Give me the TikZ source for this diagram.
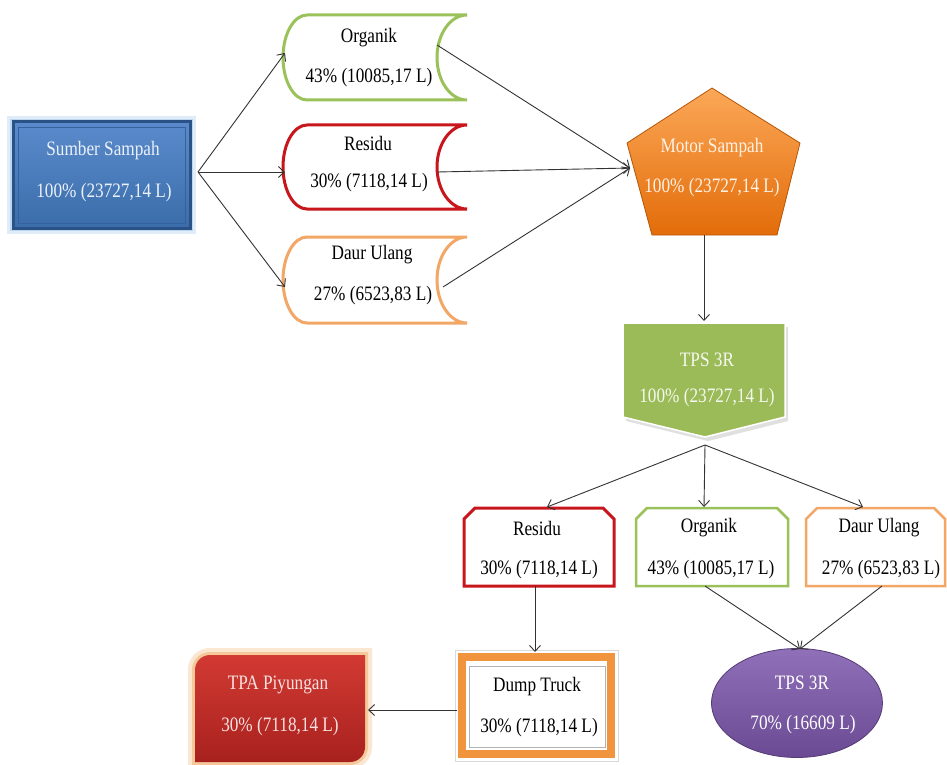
\documentclass[tikz,border=0pt]{standalone}
\usepackage{fontspec}
\newfontfamily\diafont{Liberation Serif}[FakeStretch=0.84]
\usetikzlibrary{arrows.meta,shapes.geometric}
\definecolor{cgreen}{HTML}{9BC25A}
\definecolor{cred}{HTML}{C8161D}
\definecolor{corange}{HTML}{F2A766}
\definecolor{cdump}{HTML}{F0943E}
\definecolor{cblueT}{HTML}{5A8ACB}
\definecolor{cblueB}{HTML}{3B6DAA}
\definecolor{cblueD}{HTML}{2B5287}
\definecolor{cglowB}{HTML}{BCD8F0}
\definecolor{cmotT}{HTML}{FBA858}
\definecolor{cmotB}{HTML}{E36C09}
\definecolor{ctps}{HTML}{9BBB59}
\definecolor{cpurT}{HTML}{9070B8}
\definecolor{cpurB}{HTML}{6A4A93}
\definecolor{ctpaT}{HTML}{D23A33}
\definecolor{ctpaB}{HTML}{A8211E}
\definecolor{cglowO}{HTML}{F5C89A}
\newcommand\stdata[7]{%
 \draw[#1] ({#2+#6},#3) -- (#4,#3)
  .. controls ({#4-0.552*#7},#3) and ({#4-#7},{(#3+#5)/2-0.276*(#5-#3)}) .. ({#4-#7},{(#3+#5)/2})
  .. controls ({#4-#7},{(#3+#5)/2+0.276*(#5-#3)}) and ({#4-0.552*#7},#5) .. (#4,#5)
  -- ({#2+#6},#5)
  .. controls ({#2+0.448*#6},#5) and (#2,{(#3+#5)/2+0.276*(#5-#3)}) .. (#2,{(#3+#5)/2})
  .. controls (#2,{(#3+#5)/2-0.276*(#5-#3)}) and ({#2+0.448*#6},#3) .. cycle;}
\newcommand\snipbox[6]{%
 \draw[#1] (#2,#5) -- (#2,{#3+#6}) -- ({#2+#6},#3) -- ({#4-#6},#3) -- (#4,{#3+#6}) -- (#4,#5) -- cycle;}
\tikzset{
 lbl/.style={inner sep=0pt, font=\diafont\fontsize{20.5}{24}\selectfont, text=black},
 wlbl/.style={lbl, text=white},
 conn/.style={draw=black!80, line width=0.9pt, -{Straight Barb[length=6pt,width=11pt]}},
}
\begin{document}
\begin{tikzpicture}[x=1pt,y=-1pt]
\useasboundingbox (0,0) rectangle (947,765);
\fill[white] (0,0) rectangle (947,765);

% ---- Sumber Sampah
\draw[cglowB, line width=12pt, opacity=0.45] (13,122) rectangle (190,228);
\draw[cglowB, line width=6pt] (13,122) rectangle (190,228);
\shade[top color=cblueT, bottom color=cblueB] (13,122) rectangle (190,228);
\draw[cblueD, line width=3pt] (13,122) rectangle (190,228);
\draw[cblueD!40!cblueB, line width=0.8pt] (18,127) rectangle (185,223);
\node[lbl, text=white!88!cblueT] (srcT) at (103,151) {Sumber Sampah};
\node[lbl, text=white!88!cblueT] (srcV) at (104,193) {100\% (23727,14 L)};

% ---- top stored-data boxes
\stdata{cgreen, line width=3pt, fill=white}{283}{15}{467}{100}{24}{30}
\stdata{cred, line width=3pt, fill=white}{283}{125}{467}{209}{24}{30}
\stdata{corange, line width=3pt, fill=white}{283}{237}{467}{323}{24}{30}
\node[lbl] (orgT) at (369,38) {Organik};
\node[lbl] (orgV) at (369,78) {43\% (10085,17 L)};
\node[lbl] (resT) at (368,143) {Residu};
\node[lbl] (resV) at (369,183) {30\% (7118,14 L)};
\node[lbl] (dauT) at (372,255) {Daur Ulang};
\node[lbl] (dauV) at (373,296) {27\% (6523,83 L)};

% ---- Motor Sampah pentagon
\shade[top color=cmotT, bottom color=cmotB] (712,88) -- (800,143) -- (777,235) -- (652,235) -- (627,143) -- cycle;
\draw[cmotB!80!black, line width=0.8pt] (712,88) -- (800,143) -- (777,235) -- (652,235) -- (627,143) -- cycle;
\node[lbl, text=white!85!cmotT] (motT) at (712,148) {Motor Sampah};
\node[lbl, text=white!85!cmotT] (motV) at (712,188) {100\% (23727,14 L)};

% ---- TPS 3R chevron
\fill[black!12] (626,327) -- (788,327) -- (788,421) -- (708,441) -- (626,421) -- cycle;
\fill[ctps] (623,323) -- (785,323) -- (785,417) -- (705,437) -- (623,417) -- cycle;
\draw[white, line width=1.5pt] (623,323) -- (785,323) -- (785,417) -- (705,437) -- (623,417) -- cycle;
\node[lbl, text=white!90!ctps] (tpsT) at (707,360) {TPS 3R};
\node[lbl, text=white!90!ctps] (tpsV) at (707,398) {100\% (23727,14 L)};

% ---- bottom row boxes
\snipbox{cred, line width=3pt, fill=white}{464}{508}{614}{586}{11}
\snipbox{cgreen, line width=2.5pt, fill=white}{636}{508}{788}{586}{11}
\snipbox{corange, line width=2.5pt, fill=white}{806}{508}{945}{586}{11}
\node[lbl] (res2T) at (537,528) {Residu};
\node[lbl] (res2V) at (539,570) {30\% (7118,14 L)};
\node[lbl] (org2T) at (709,528) {Organik};
\node[lbl] (org2V) at (711,570) {43\% (10085,17 L)};
\node[lbl] (dau2T) at (879,528) {Daur Ulang};
\node[lbl] (dau2V) at (881,570) {27\% (6523,83 L)};

% ---- Dump Truck
\draw[black!15, line width=1pt] (455,650) rectangle (618,761);
\draw[cdump, line width=8pt] (462,657) rectangle (611,754);
\draw[black!30, line width=1pt] (469,666) rectangle (605,747);
\node[lbl] (dumT) at (537,687) {Dump Truck};
\node[lbl] (dumV) at (539,728) {30\% (7118,14 L)};

% ---- TPA Piyungan
\draw[cglowO, line width=14pt, opacity=0.45] (195,762) -- (195,670) .. controls (195,661.7) and (201.7,655) .. (210,655) -- (365,655) -- (365,747) .. controls (365,755.3) and (358.3,762) .. (350,762) -- cycle;
\draw[cglowO, line width=6pt] (195,762) -- (195,670) .. controls (195,661.7) and (201.7,655) .. (210,655) -- (365,655) -- (365,747) .. controls (365,755.3) and (358.3,762) .. (350,762) -- cycle;
\shade[top color=ctpaT, bottom color=ctpaB] (195,762) -- (195,670) .. controls (195,661.7) and (201.7,655) .. (210,655) -- (365,655) -- (365,747) .. controls (365,755.3) and (358.3,762) .. (350,762) -- cycle;
\node[lbl, text=white!85!ctpaT] (tpaT) at (278,685) {TPA Piyungan};
\node[lbl, text=white!85!ctpaT] (tpaV) at (280,727) {30\% (7118,14 L)};

% ---- TPS 3R ellipse
\shade[top color=cpurT, bottom color=cpurB] (797,703) ellipse [x radius=85.5, y radius=54.5];
\draw[cpurB!80!black, line width=0.8pt] (797,703) ellipse [x radius=85.5, y radius=54.5];
\node[wlbl] (ellT) at (802,683) {TPS 3R};
\node[wlbl] (ellV) at (803,725) {70\% (16609 L)};

% ---- connector end points
\coordinate (srcE) at (198,172);
\coordinate (org1W) at (285,53);
\coordinate (res1W) at (285,172);
\coordinate (dau1W) at (285,287);
\coordinate (org1E) at (437,45);
\coordinate (res1E) at (437,172);
\coordinate (dau1E) at (443,287);
\coordinate (motW) at (630,168);
\coordinate (motS) at (704,235);
\coordinate (tpsN) at (704,321);
\coordinate (tpsS) at (705,445);
\coordinate (res2N) at (547,507);
\coordinate (org2N) at (704,507);
\coordinate (dau2N) at (863,507);
\coordinate (res2S) at (535,586);
\coordinate (dumN) at (535,652);
\coordinate (org2S) at (705,586);
\coordinate (dau2S) at (882,586);
\coordinate (ellN) at (800,649);
\coordinate (dumW) at (457,710);
\coordinate (tpaE) at (368,710);

% ---- connectors
\draw[conn] (srcE) -- (org1W);
\draw[conn] (srcE) -- (res1W);
\draw[conn] (srcE) -- (dau1W);
\draw[conn] (org1E) -- (motW);
\draw[conn] (res1E) -- (motW);
\draw[conn] (dau1E) -- (motW);
\draw[conn] (motS) -- (tpsN);
\draw[conn] (tpsS) -- (res2N);
\draw[conn] (tpsS) -- (org2N);
\draw[conn] (tpsS) -- (dau2N);
\draw[conn] (res2S) -- (dumN);
\draw[conn] (org2S) -- (ellN);
\draw[conn] (dau2S) -- (ellN);
\draw[conn] (dumW) -- (tpaE);
\end{tikzpicture}
\end{document}
